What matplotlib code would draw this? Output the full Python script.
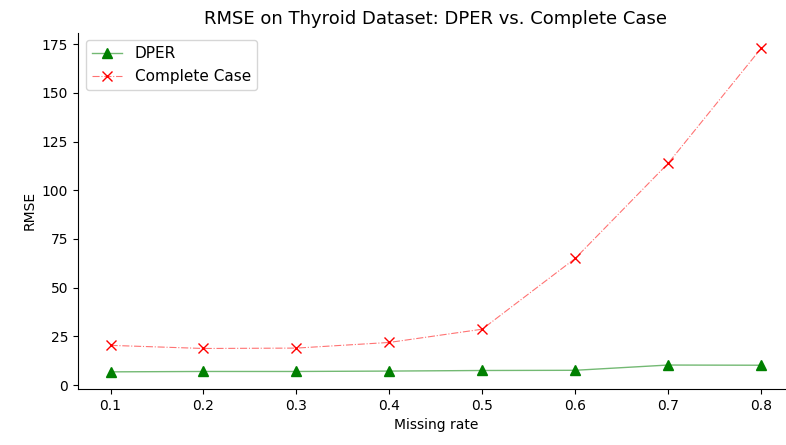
import matplotlib
matplotlib.use("Agg")
import matplotlib.pyplot as plt

missing_rate = [0.1, 0.2, 0.3, 0.4, 0.5, 0.6, 0.7, 0.8]
dper = [6.8, 7.0, 7.0, 7.2, 7.5, 7.6, 10.3, 10.2]
complete_case = [20.4, 18.8, 19.0, 21.9, 28.7, 65.0, 113.8, 172.8]

fig = plt.figure(figsize=(7.86, 4.45), dpi=100)
ax = fig.add_axes([78 / 786, (445 - 389) / 445, 715.5 / 786, (389 - 32.7) / 445])

ax.plot(missing_rate, dper, color=(0, 0.5, 0, 0.55), linestyle="-", linewidth=1.0,
        marker="^", markersize=7, markerfacecolor="green", markeredgecolor="green",
        label="DPER")
ax.plot(missing_rate, complete_case, color=(1, 0, 0, 0.55), linestyle="-.",
        linewidth=0.8, marker="x", markersize=7, markeredgecolor="red",
        markerfacecolor="red", label="Complete Case")

ax.set_title("RMSE on Thyroid Dataset: DPER vs. Complete Case", fontsize=13)
ax.set_xlabel("Missing rate")
ax.set_ylabel("RMSE")
ax.set_xticks(missing_rate)
ax.set_xlim(0.065, 0.835)
ax.set_ylim(-2.0, 180.9)
ax.spines["top"].set_visible(False)
ax.spines["right"].set_visible(False)
ax.legend(loc="upper left", fontsize=11)
fig.savefig("out.png", dpi=100)
